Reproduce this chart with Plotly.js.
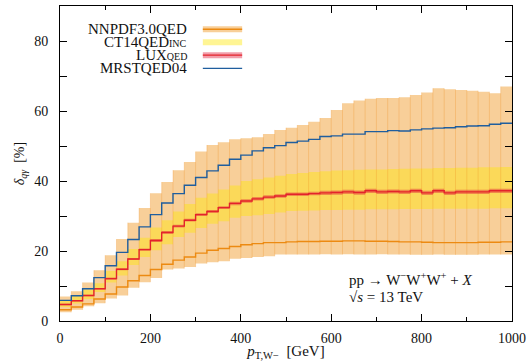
<!DOCTYPE html>
<html><head><meta charset="utf-8">
<script src="https://cdn.plot.ly/plotly-3.0.1.min.js"></script>
<style>html,body{margin:0;padding:0;background:#fff}#chart{width:529px;height:361px}</style>
</head><body><div id="chart"></div>
<script>
// ---- data ----
const binEdges = [0,25,50,75,100,125,150,175,200,225,250,275,300,325,350,375,400,425,450,475,500,525,550,575,600,625,650,675,700,725,750,775,800,825,850,875,900,925,950,975,1000];

const nnpdfHi = [7.0,8.5,11.0,14.5,18.8,23.4,28.1,32.3,36.5,39.7,43.1,45.4,48.4,50.3,51.1,51.9,52.2,52.5,53.4,54.6,55.2,56.0,56.9,58.0,60.3,62.2,63.0,63.5,63.7,63.7,63.9,64.6,65.3,66.5,66.2,66.0,65.8,65.5,65.1,67.0];
const nnpdfLo = [2.5,3.2,4.2,5.1,6.4,7.3,9.5,11.1,12.3,14.7,15.0,15.4,16.4,16.8,17.1,17.8,18.0,18.3,18.5,19.0,19.0,19.0,19.0,19.1,19.0,19.1,19.0,19.0,19.1,19.0,19.0,18.9,18.9,19.0,18.9,18.9,18.9,19.0,19.0,19.0];
const nnpdfC  = [3.2,4.0,4.9,6.3,7.7,9.7,11.5,13.0,14.7,16.2,17.4,18.3,19.4,20.2,20.7,21.3,21.8,22.1,22.4,22.4,22.6,22.7,22.7,22.8,22.8,22.9,22.9,22.8,22.8,22.7,22.6,22.6,22.5,22.4,22.4,22.4,22.4,22.5,22.5,22.6];

const ct14Hi = [6.0,7.2,9.0,10.8,14.3,17.1,20.6,23.8,26.7,28.8,31.3,33.4,35.2,36.4,37.6,38.7,40.0,40.5,41.0,41.5,42.0,42.3,42.6,42.8,43.0,43.1,43.2,43.3,43.3,43.4,43.5,43.6,43.6,43.7,43.7,43.8,43.8,43.9,43.9,44.0];
const ct14Lo = [4.0,5.0,6.3,8.3,11.0,13.0,16.0,18.3,20.2,21.9,24.0,25.2,26.6,27.8,28.5,29.5,30.0,30.2,30.6,31.0,31.4,31.5,31.6,31.7,31.7,31.8,31.8,31.9,31.9,31.9,32.0,32.0,32.0,32.1,32.1,32.1,32.1,32.1,32.2,32.2];

const luxC  = [4.7,5.8,7.3,9.2,12.1,14.8,17.7,20.4,23.0,25.3,27.1,28.8,30.4,31.3,32.4,33.6,34.3,34.9,35.4,35.7,36.2,36.2,36.4,36.6,36.7,36.9,36.7,37.2,36.9,37.0,36.9,37.2,36.6,37.2,36.6,36.9,36.9,36.9,37.2,37.2];
const luxLo = [4.5,5.6,7.1,9.0,11.8,14.5,17.4,20.1,22.6,24.9,26.7,28.4,30.0,30.9,32.0,33.1,33.8,34.4,34.9,35.2,35.7,35.7,35.9,36.0,36.1,36.3,36.1,36.6,36.3,36.4,36.3,36.6,36.0,36.6,36.0,36.3,36.3,36.3,36.6,36.6];
const luxHi = [4.9,6.0,7.5,9.4,12.4,15.1,18.0,20.7,23.4,25.7,27.5,29.2,30.8,31.7,32.8,34.1,34.8,35.4,35.9,36.2,36.7,36.7,36.9,37.2,37.3,37.5,37.3,37.8,37.5,37.6,37.5,37.8,37.2,37.8,37.2,37.5,37.5,37.5,37.8,37.8];

const mrstC = [5.9,7.2,9.2,12.4,15.8,19.6,23.3,26.9,30.4,33.7,36.4,38.8,41.0,42.9,44.5,46.2,47.4,48.6,49.5,50.1,51.0,51.4,51.9,52.7,52.9,53.4,53.4,54.1,54.1,54.4,54.3,54.6,54.9,55.1,55.2,55.5,55.7,55.8,56.2,56.5];

const seriesNames = ['NNPDF3.0QED','CT14QED<span style="font-size:10px">INC</span>','LUX<span style="font-size:10px">QED</span>','MRSTQED04'];

// ---- styles ----
const cOrangeBand = '#F8CF99', cOrangeLine = '#EC8A12', cOrangeEdge = 'rgba(236,140,30,0.28)';
const cYellow = 'rgba(255,230,0,0.42)';
const cLuxBand = 'rgba(225,25,55,0.42)', cRed = '#E3232B';
const cBlue = '#1F5E9E';
const serif = 'Liberation Serif, Times New Roman, serif';

function stepY(v){ return v.concat([v[v.length-1]]); }
function band(lo, hi, color){
  return [
    {x: binEdges, y: stepY(lo), mode:'lines', line:{shape:'hv', width:0, color:color}, hoverinfo:'skip'},
    {x: binEdges, y: stepY(hi), mode:'lines', line:{shape:'hv', width:0, color:color}, fill:'tonexty', fillcolor:color, hoverinfo:'skip'}
  ];
}
function stepLine(v, color, w){
  return {x: binEdges, y: stepY(v), mode:'lines', line:{shape:'hv', width:w, color:color}, hoverinfo:'skip'};
}
// vertical bin-edge lines inside the NNPDF band
const ex = [], ey = [];
for (let i = 1; i < binEdges.length - 1; i++) {
  ex.push(binEdges[i], binEdges[i], null);
  ey.push(Math.min(nnpdfLo[i-1], nnpdfLo[i]), Math.max(nnpdfHi[i-1], nnpdfHi[i]), null);
}

const traces = [].concat(
  band(nnpdfLo, nnpdfHi, cOrangeBand),
  band(ct14Lo, ct14Hi, cYellow),
  [{x: ex, y: ey, mode:'lines', line:{width:1, color:cOrangeEdge}, hoverinfo:'skip'}],
  [stepLine(nnpdfC, cOrangeLine, 1.4)],
  band(luxLo, luxHi, cLuxBand),
  [stepLine(luxC, cRed, 1.4)],
  [stepLine(mrstC, cBlue, 1.4)]
);

// ---- manual legend (text, then the sample to its right) ----
const legY = [0.926, 0.885, 0.844, 0.802];
const legTextX = 0.283, sx0 = 0.316, sx1 = 0.403, bh = 0.0095;
const annotations = seriesNames.map((n, i) => ({
  xref:'paper', yref:'paper', x: legTextX, y: legY[i], xanchor:'right', yanchor:'middle',
  text: n, showarrow:false, borderpad:0, font:{family:serif, size:15, color:'#111'}
}));
annotations.push(
  {xref:'paper', yref:'paper', x:0.637, y:0.134, xanchor:'left', yanchor:'middle', showarrow:false, borderpad:0,
   text:'pp → W<sup>−</sup>W<sup>+</sup>W<sup>+</sup> + <i>X</i>', font:{family:serif, size:15, color:'#111'}},
  {xref:'paper', yref:'paper', x:0.637, y:0.077, xanchor:'left', yanchor:'middle', showarrow:false, borderpad:0,
   text:'√<i>s</i> = 13 TeV', font:{family:serif, size:15, color:'#111'}}
);
const shapes = [
  {type:'rect', xref:'paper', yref:'paper', x0:sx0, x1:sx1, y0:legY[0]-bh, y1:legY[0]+bh, fillcolor:cOrangeBand, line:{width:0}},
  {type:'line', xref:'paper', yref:'paper', x0:sx0, x1:sx1, y0:legY[0], y1:legY[0], line:{color:cOrangeLine, width:1.4}},
  {type:'rect', xref:'paper', yref:'paper', x0:sx0, x1:sx1, y0:legY[1]-bh, y1:legY[1]+bh, fillcolor:cYellow, line:{width:0}},
  {type:'rect', xref:'paper', yref:'paper', x0:sx0, x1:sx1, y0:legY[2]-bh, y1:legY[2]+bh, fillcolor:cLuxBand, line:{width:0}},
  {type:'line', xref:'paper', yref:'paper', x0:sx0, x1:sx1, y0:legY[2], y1:legY[2], line:{color:cRed, width:1.4}},
  {type:'line', xref:'paper', yref:'paper', x0:sx0, x1:sx1, y0:legY[3], y1:legY[3], line:{color:cBlue, width:1.4}}
];

const axisCommon = {
  showline:true, linecolor:'#000', linewidth:1, mirror:'ticks', ticks:'inside', tickcolor:'#000',
  tickwidth:1, ticklen:7, showgrid:false, zeroline:false,
  tickfont:{family:serif, size:14, color:'#111'}
};
const layout = {
  width:529, height:361, margin:{l:60, r:17, t:6, b:40},
  paper_bgcolor:'#fff', plot_bgcolor:'#fff', showlegend:false,
  xaxis: Object.assign({}, axisCommon, {
    range:[0,1000], tick0:0, dtick:200, ticklabelstandoff:4,
    minor:{dtick:100, ticks:'inside', ticklen:4, tickcolor:'#000', showgrid:false},
    title:{text:'<i>p</i><sub>T,W−</sub>  [GeV]', font:{family:serif, size:15, color:'#111'}, standoff:4}
  }),
  yaxis: Object.assign({}, axisCommon, {
    range:[0,90], tick0:0, dtick:20, ticklabelstandoff:8,
    minor:{dtick:10, ticks:'inside', ticklen:7, tickcolor:'#000', showgrid:false},
    title:{text:'<i>δ</i><sub><i>qγ</i></sub>  [%]', font:{family:serif, size:14, color:'#111'}, standoff:6}
  }),
  annotations: annotations,
  shapes: shapes
};
Plotly.newPlot('chart', traces, layout, {displayModeBar:false, staticPlot:true});
</script>
</body></html>
